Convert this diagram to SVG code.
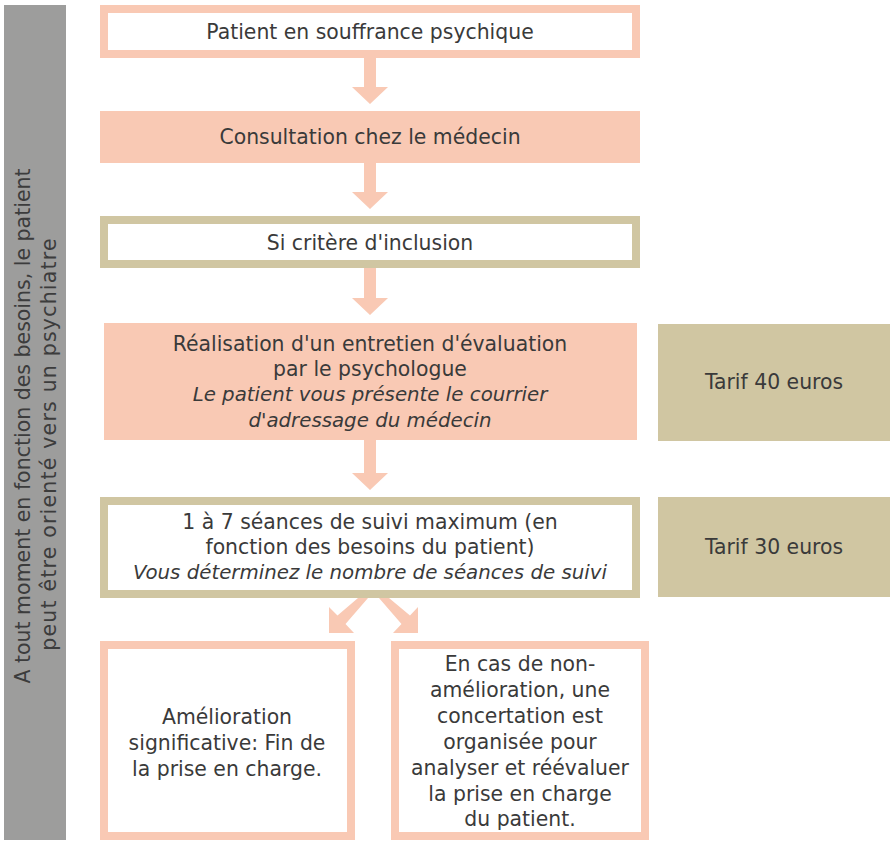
<svg xmlns="http://www.w3.org/2000/svg" width="890" height="841" viewBox="0 0 890 841">
<style>
.t{font-family:"DejaVu Sans","Liberation Sans",sans-serif;font-size:20.4px;fill:#3a3a3a;text-anchor:middle}
.i{font-style:italic;font-size:19.8px}
.side{font-family:"DejaVu Sans","Liberation Sans",sans-serif;font-size:20.5px;fill:#3c3c3c;text-anchor:middle}
.pb{fill:#ffffff;stroke:#f9c9b4;stroke-width:8}
.tb{fill:#ffffff;stroke:#d0c6a2;stroke-width:8}
.pf{fill:#f9c9b4}
.tf{fill:#d0c6a2}
.ar{fill:#f9c9b4}
</style>
<rect x="0" y="0" width="890" height="841" fill="#ffffff"/>
<g id="side">
<rect x="4" y="5" width="62" height="835" fill="#9d9d9c"/>
<text class="side" transform="translate(30,426) rotate(-90)">A tout moment en fonction des besoins, le patient</text>
<text class="side" transform="translate(56,444) rotate(-90)" letter-spacing="1.2">peut être orienté vers un psychiatre</text>
</g>
<g id="connectors">
<polygon class="ar" points="364,58 376,58 376,87 388,87 370,104 352,87 364,87"/>
<polygon class="ar" points="364,163 376,163 376,192 388,192 370,209 352,192 364,192"/>
<polygon class="ar" points="364,268 376,268 376,298 388,298 370,315 352,298 364,298"/>
<polygon class="ar" points="364,440 376,440 376,473 388,473 370,490 352,473 364,473"/>
<polygon class="ar" points="358,598 368,598 345.5,624 354,633 329,633 329,607 337.5,615.5"/>
<polygon class="ar" points="379,598 389,598 410,615.5 418,607 418,633 393,633 401.5,624"/>
</g>
<g id="n1">
<rect class="pb" x="104" y="9" width="532" height="45"/>
<text class="t" x="370" y="39">Patient en souffrance psychique</text>
</g>
<g id="n2">
<rect class="pf" x="100" y="111" width="540" height="52"/>
<text class="t" x="370" y="144">Consultation chez le médecin</text>
</g>
<g id="n3">
<rect class="tb" x="104" y="220" width="532" height="44"/>
<text class="t" x="370" y="250">Si critère d'inclusion</text>
</g>
<g id="n4">
<rect class="pf" x="104" y="323" width="533" height="117"/>
<text class="t" x="370" y="351">Réalisation d'un entretien d'évaluation</text>
<text class="t" x="370" y="376">par le psychologue</text>
<text class="t i" x="370" y="401">Le patient vous présente le courrier</text>
<text class="t i" x="370" y="427">d'adressage du médecin</text>
</g>
<g id="tarif40">
<rect class="tf" x="658" y="324" width="232" height="117"/>
<text class="t" x="774" y="389">Tarif 40 euros</text>
</g>
<g id="n5">
<rect class="tb" x="104" y="501" width="532" height="93"/>
<text class="t" x="370" y="529">1 à 7 séances de suivi maximum (en</text>
<text class="t" x="370" y="554">fonction des besoins du patient)</text>
<text class="t i" x="370" y="579">Vous déterminez le nombre de séances de suivi</text>
</g>
<g id="tarif30">
<rect class="tf" x="658" y="497" width="232" height="100"/>
<text class="t" x="774" y="554">Tarif 30 euros</text>
</g>
<g id="n6">
<rect class="pb" x="104" y="645" width="247" height="191"/>
<text class="t" x="227" y="724">Amélioration</text>
<text class="t" x="227" y="750">significative: Fin de</text>
<text class="t" x="227" y="776">la prise en charge.</text>
</g>
<g id="n7">
<rect class="pb" x="395" y="645" width="250" height="191"/>
<text class="t" x="520" y="671">En cas de non-</text>
<text class="t" x="520" y="697">amélioration, une</text>
<text class="t" x="520" y="723">concertation est</text>
<text class="t" x="520" y="749">organisée pour</text>
<text class="t" x="520" y="775">analyser et réévaluer</text>
<text class="t" x="520" y="801">la prise en charge</text>
<text class="t" x="520" y="826">du patient.</text>
</g>
</svg>
